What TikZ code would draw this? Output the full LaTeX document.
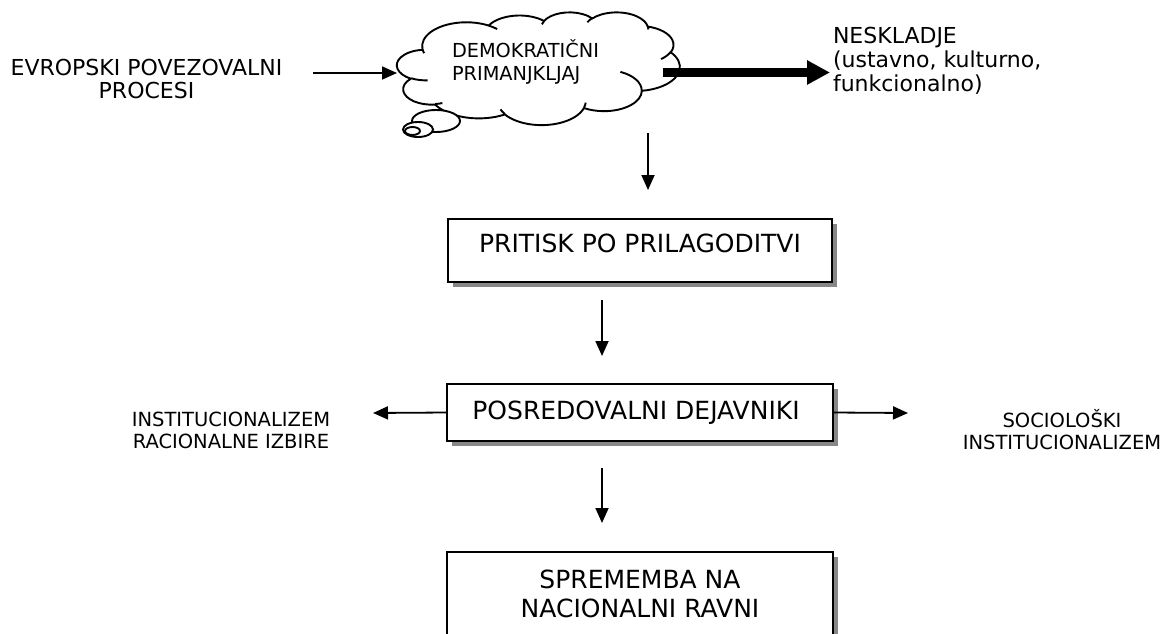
\documentclass[tikz,border=0pt]{standalone}
\usepackage{fontspec}
\setmainfont{DejaVu Sans}
\usetikzlibrary{arrows.meta,shadows}

% multi-line text whose reference point is the baseline of its first line
\newcommand{\txtstack}[2]{\begin{tabular}[t]{@{}#1@{}}#2\end{tabular}}

\begin{document}
\begin{tikzpicture}[x=1pt,y=-1pt,
  every node/.style={inner sep=0pt, outer sep=0pt},
  lbl/.style={anchor=base},
  bigtxt/.style={font=\fontsize{25}{29}\selectfont},
  midtxt/.style={font=\fontsize{22}{24}\selectfont},
  smalltxt/.style={font=\fontsize{19.5}{22}\selectfont},
  cloudtxt/.style={font=\fontsize{19.3}{24}\selectfont},
  stepbox/.style={draw, line width=2pt, fill=white, rectangle,
    drop shadow={shadow xshift=5pt, shadow yshift=-5pt, fill=black!47, opacity=1}},
  arr/.style={line width=1.8pt, -{Triangle[length=15pt, width=13pt]}},
  fatarr/.style={line width=9pt, -{Triangle[length=23pt, width=23pt]}},
  cloudline/.style={line width=1.9pt, line join=round},
  puff/.style={draw, line width=1.9pt, fill=white}
]
\useasboundingbox (0,0) rectangle (1164,634);
\clip (0,0) rectangle (1164,634);

% ---------- top row ----------
\node[lbl, midtxt] (evr) at (146.5,75)
  {\txtstack{c}{EVROPSKI POVEZOVALNI\\PROCESI}};

% cloud outline, drawn in a 43200 x 43200 unit frame
\begin{scope}[shift={(397,12)}, x=0.0065509pt, y=-0.0026157pt]
  \draw[cloudline, fill=white] (3900,14370)
    arc[start angle=-187.75, end angle=-59.64,  x radius=6753, y radius=9190]
    arc[start angle=-152.02, end angle=-45.45,  x radius=5333, y radius=7267]
    arc[start angle=-153.48, end angle=-37.33,  x radius=4365, y radius=5945]
    arc[start angle=-139.71, end angle=-10.22,  x radius=4857, y radius=6595]
    arc[start angle=-74.77,  end angle=23.21,   x radius=5333, y radius=7273]
    arc[start angle=-37.52,  end angle=81.86,   x radius=6775, y radius=9220]
    arc[start angle=0.46,    end angle=121.98,  x radius=5785, y radius=7867]
    arc[start angle=16.84,   end angle=146.23,  x radius=6752, y radius=9215]
    arc[start angle=58.98,   end angle=150.19,  x radius=7720, y radius=10543]
    arc[start angle=83.31,   end angle=223.12,  x radius=4360, y radius=5918]
    arc[start angle=120.36,  end angle=264.11,  x radius=4345, y radius=5945]
    -- cycle;
  % inner folds between the puffs
  \draw[cloudline]
    (4693,26177)  arc[start angle=85.54,   end angle=120.36,  x radius=4345, y radius=5945]
    (6928,34899)  arc[start angle=68.23,   end angle=83.31,   x radius=4360, y radius=5918]
    (16478,39090) arc[start angle=146.23,  end angle=158.47,  x radius=6752, y radius=9215]
    (28827,34751) arc[start angle=4.73,    end angle=16.84,   x radius=6752, y radius=9215]
    (34129,22954) arc[start angle=-64.03,  end angle=0.46,    x radius=5785, y radius=7867]
    (41798,15354) arc[start angle=23.21,   end angle=49.64,   x radius=5333, y radius=7273]
    (38324,5426)  arc[start angle=-10.22,  end angle=0.82,    x radius=4857, y radius=6595]
    (29078,3952)  arc[start angle=-156.30, end angle=-139.71, x radius=4857, y radius=6595]
    (22141,4720)  arc[start angle=-167.72, end angle=-153.48, x radius=4365, y radius=5945]
    (14000,5192)  arc[start angle=-59.64,  end angle=-45.72,  x radius=6753, y radius=9190]
    (4127,15789)  arc[start angle=163.19,  end angle=172.25,  x radius=6753, y radius=9190];
\end{scope}

% thought bubbles trailing off the cloud
\draw[puff] (436,121) ellipse [x radius=24, y radius=11];
\draw[puff] (418,129.5) ellipse [x radius=15, y radius=7.5];
\draw[puff] (412.5,131) ellipse [x radius=7.5, y radius=4];

\node[lbl, anchor=base west, cloudtxt] (cloudlbl) at (452,57)
  {\txtstack{l}{DEMOKRATIČNI\\PRIMANJKLJAJ}};

\node[lbl, anchor=base west, midtxt] (nesk) at (833,44)
  {\txtstack{l}{NESKLADJE\\(ustavno, kulturno,\\funkcionalno)}};

\coordinate (evrEnd) at (313,73);
\coordinate (cloudIn) at (397,73);
\draw[arr] (evrEnd) -- (cloudIn);

\coordinate (fatStart) at (663,72.5);
\coordinate (fatEnd) at (830,72.5);
\draw[fatarr] (fatStart) -- (fatEnd);

% ---------- boxes ----------
\node[stepbox, minimum width=384pt, minimum height=63pt] (b1) at (640,250.5) {};
\node[lbl, bigtxt] (t1) at (640,252.6) {PRITISK PO PRILAGODITVI};

\node[stepbox, minimum width=386pt, minimum height=57pt] (b2) at (640,412.5) {};
\node[lbl, bigtxt] (t2) at (636,419) {POSREDOVALNI DEJAVNIKI};

\node[stepbox, minimum width=386pt, minimum height=130pt] (b3) at (640,617) {};
\node[lbl, bigtxt] (t3) at (640,588)
  {\txtstack{c}{SPREMEMBA NA\\NACIONALNI RAVNI}};

% side labels
\node[lbl, smalltxt] (rational) at (231,426.6)
  {\txtstack{c}{INSTITUCIONALIZEM\\RACIONALNE IZBIRE}};
\node[lbl, smalltxt] (socio) at (1062,427)
  {\txtstack{c}{SOCIOLOŠKI\\INSTITUCIONALIZEM}};

% ---------- vertical and side arrows ----------
\coordinate (d1s) at (648,133);  \coordinate (d1e) at (648,190);
\coordinate (d2s) at (602,300);  \coordinate (d2e) at (602,356);
\coordinate (d3s) at (602,468);  \coordinate (d3e) at (602,523);
\draw[arr] (d1s) -- (d1e);
\draw[arr] (d2s) -- (d2e);
\draw[arr] (d3s) -- (d3e);

\coordinate (leftEnd) at (373,413);
\coordinate (rightEnd) at (908,413);
\draw[arr] (b2.west) -- (leftEnd);
\draw[arr] (b2.east) -- (rightEnd);
\end{tikzpicture}
\end{document}
